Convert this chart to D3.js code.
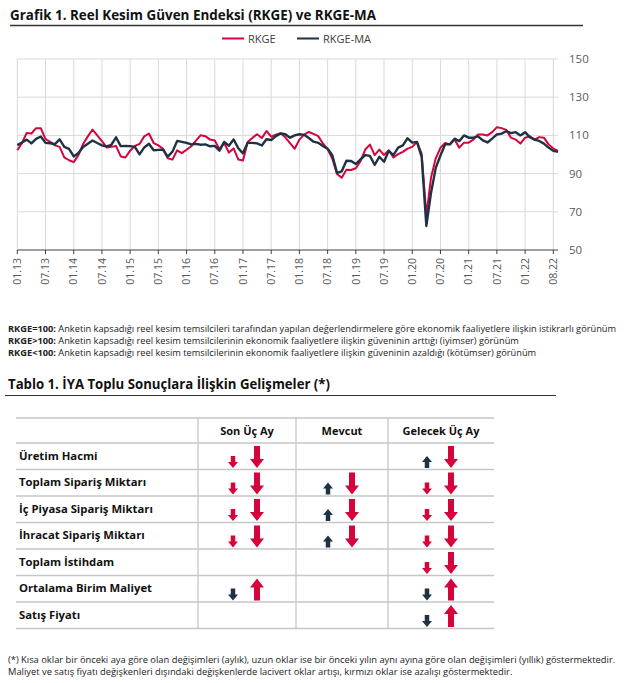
<!DOCTYPE html>
<html>
<head>
<meta charset="utf-8">
<script src="https://cdn.jsdelivr.net/npm/d3@7"></script>
<style>
  body { margin: 0; background: #fff; }
  text { font-family: "Open Sans", sans-serif; }
</style>
</head>
<body>
<div id="chart"></div>
<script>
// --- データ ---
const rkge = [
  102.2, 106, 111.3, 111, 113.8, 113.8, 108, 106.6, 104.8, 104, 98.5, 97,
  96, 99.7, 105.5, 109.5, 113, 110, 107, 103.7, 104, 104.5, 99, 98.4,
  102, 104.5, 105.5, 109.5, 111, 106, 104.8, 103, 98, 97.3, 102.2, 100.7,
  102.5, 104.3, 107.3, 110.1, 109.6, 107.8, 107.3, 102.8, 106, 101, 103.2, 97.4,
  96.9, 106.5, 108.7, 110.6, 108.6, 112.3, 109.3, 110.4, 111.1, 109, 106, 103,
  107.8, 110.4, 111.8, 110.8, 109.6, 105.8, 102.8, 97.8, 89.8, 87.8, 92, 91.9,
  92.8, 96.5, 102.6, 105.2, 99.7, 102.6, 99.7, 102.2, 98.4, 100.2, 101.4, 103.1,
  104, 106.6, 100.5, 68, 88, 98, 103.5, 106, 105.3, 107.8, 103.6, 106.2,
  106.2, 107.8, 110.5, 110.5, 110, 111.7, 114.3, 113.8, 112.9, 108.8, 107.8, 105.7,
  108.8, 109.5, 107.8, 109.1, 108.8, 105.3, 103.1, 101.9
];
const rkgeMa = [
  104.9, 106.3, 107.8, 105.8, 108.2, 109.4, 106.1, 105.9, 105.4, 107.9, 104, 103,
  99, 100.8, 103.9, 105.6, 107.3, 106, 104.8, 104.2, 105.1, 109, 104.4, 104.5,
  104.4, 104, 100.1, 103.7, 105.6, 102.2, 102.4, 102.5, 98.9, 101.5, 107.1, 106.6,
  106.1, 105.3, 105.6, 105.1, 105.3, 104.3, 104.5, 102, 106.6, 104.6, 107.9, 103.3,
  100.6, 106.1, 106.1, 105.8, 104.7, 108, 107.6, 109.6, 111, 110.6, 108.8, 110,
  110.6, 110.3, 108.6, 106.7, 106.1, 104.4, 103, 99.6, 90.4, 91.2, 96.7, 96.6,
  95, 97.4, 99.7, 99.3, 94.6, 98.8, 96.2, 101.9, 99.7, 103.6, 104.8, 108.5,
  106.2, 106.6, 98.8, 62.6, 80, 93, 99.5, 105.4, 105.3, 108.3, 107, 110,
  108.8, 108.8, 109.5, 107.4, 106.3, 108.3, 110.5, 110.9, 112.2, 111.2, 111.7, 110,
  111.7, 109.1, 107.8, 107.1, 105.7, 103.6, 101.9, 101.4
];
const tickIdx = [0, 6, 12, 18, 24, 30, 36, 42, 48, 54, 60, 66, 72, 78, 84, 90, 96, 102, 108, 114];
const tickLabels = ["01.13", "07.13", "01.14", "07.14", "01.15", "07.15", "01.16", "07.16", "01.17", "07.17",
  "01.18", "07.18", "01.19", "07.19", "01.20", "07.20", "01.21", "07.21", "01.22", "08.22"];
const yTicks = [50, 70, 90, 110, 130, 150];
const seriesNames = ["RKGE", "RKGE-MA"];

const notes = [
  ["RKGE=100:", " Anketin kapsadığı reel kesim temsilcileri tarafından yapılan değerlendirmelere göre ekonomik faaliyetlere ilişkin istikrarlı görünüm"],
  ["RKGE>100:", " Anketin kapsadığı reel kesim temsilcilerinin ekonomik faaliyetlere ilişkin güveninin arttığı (iyimser) görünüm"],
  ["RKGE<100:", " Anketin kapsadığı reel kesim temsilcilerinin ekonomik faaliyetlere ilişkin güveninin azaldığı (kötümser) görünüm"]
];

const tableCols = ["Son Üç Ay", "Mevcut", "Gelecek Üç Ay"];
const tableRowNames = ["Üretim Hacmi", "Toplam Sipariş Miktarı", "İç Piyasa Sipariş Miktarı",
  "İhracat Sipariş Miktarı", "Toplam İstihdam", "Ortalama Birim Maliyet", "Satış Fiyatı"];
// [kısa ok, uzun ok]  R/N = kırmızı/lacivert, u/d = yukarı/aşağı
const tableArrows = [
  [["Rd", "Rd"], null, ["Nu", "Rd"]],
  [["Rd", "Rd"], ["Nu", "Rd"], ["Rd", "Rd"]],
  [["Rd", "Rd"], ["Nu", "Rd"], ["Rd", "Rd"]],
  [["Rd", "Rd"], ["Nu", "Rd"], ["Rd", "Rd"]],
  [null, null, ["Rd", "Rd"]],
  [["Nd", "Ru"], null, ["Nd", "Ru"]],
  [null, null, ["Nd", "Ru"]]
];
const footnotes = [
  "(*)  Kısa oklar bir önceki aya göre olan değişimleri (aylık), uzun oklar ise bir önceki yılın aynı ayına göre olan değişimleri (yıllık) göstermektedir.",
  "Maliyet ve satış fiyatı değişkenleri dışındaki değişkenlerde lacivert oklar artışı, kırmızı oklar ise azalışı göstermektedir."
];

const RED = "#d5043a";
const NAVY = "#1f3245";
const GRID = "#d9d9d9";

const svg = d3.select("#chart").append("svg")
  .attr("width", 624).attr("height", 683);

// --- タイトル ---
svg.append("text").attr("x", 10).attr("y", 20)
  .attr("font-size", 14).attr("font-weight", "bold").attr("fill", "#111")
  .attr("textLength", 366).attr("lengthAdjust", "spacingAndGlyphs")
  .text("Grafik 1. Reel Kesim Güven Endeksi (RKGE) ve RKGE-MA");
svg.append("line").attr("x1", 10).attr("x2", 583).attr("y1", 25.5).attr("y2", 25.5)
  .attr("stroke", "#333").attr("stroke-width", 1.5);

// --- 凡例 ---
const legend = [{ x: 222, c: RED }, { x: 297, c: NAVY }];
legend.forEach((d, i) => {
  svg.append("line").attr("x1", d.x).attr("x2", d.x + 22).attr("y1", 38.5).attr("y2", 38.5)
    .attr("stroke", d.c).attr("stroke-width", 2);
  svg.append("text").attr("x", d.x + 26).attr("y", 42.5)
    .attr("font-size", 11).attr("fill", "#404040").text(seriesNames[i]);
});

// --- スケール ---
const x = d3.scaleLinear().domain([0, rkge.length - 1]).range([17.3, 558]);
const y = d3.scaleLinear().domain([50, 150]).range([250, 59]);

// グリッド
const g = svg.append("g");
g.selectAll(".hg").data(yTicks.filter(v => v > 50)).enter().append("line")
  .attr("x1", x(0)).attr("x2", x(rkge.length - 1))
  .attr("y1", d => y(d)).attr("y2", d => y(d))
  .attr("stroke", GRID).attr("stroke-width", 1);
g.selectAll(".vg").data(tickIdx).enter().append("line")
  .attr("x1", d => x(d)).attr("x2", d => x(d))
  .attr("y1", y(150)).attr("y2", y(50))
  .attr("stroke", GRID).attr("stroke-width", 1);

// x軸
g.append("line").attr("x1", x(0)).attr("x2", x(rkge.length - 1))
  .attr("y1", y(50)).attr("y2", y(50)).attr("stroke", "#404040").attr("stroke-width", 1);
g.selectAll(".xt").data(tickIdx).enter().append("line")
  .attr("x1", d => x(d)).attr("x2", d => x(d))
  .attr("y1", y(50)).attr("y2", y(50) + 4)
  .attr("stroke", "#404040").attr("stroke-width", 1);
g.selectAll(".xl").data(tickIdx).enter().append("text")
  .attr("transform", d => `translate(${x(d)},${y(50) + 8}) rotate(-90)`)
  .attr("text-anchor", "end").attr("dy", "0.35em")
  .attr("font-size", 10.5).attr("fill", "#595959")
  .text((d, i) => tickLabels[i]);

// y軸ラベル（右）
g.selectAll(".yl").data(yTicks).enter().append("text")
  .attr("x", 569).attr("y", d => y(d)).attr("dy", "0.35em")
  .attr("font-size", 11.5).attr("fill", "#595959")
  .text(d => d);

// 線
const line = d3.line().x((d, i) => x(i)).y(d => y(d));
g.append("path").datum(rkge).attr("d", line)
  .attr("fill", "none").attr("stroke", RED).attr("stroke-width", 2).attr("stroke-linejoin", "round");
g.append("path").datum(rkgeMa).attr("d", line)
  .attr("fill", "none").attr("stroke", NAVY).attr("stroke-width", 2.4).attr("stroke-linejoin", "round");

// --- 注記 ---
notes.forEach((n, i) => {
  const t = svg.append("text").attr("x", 8).attr("y", 332 + i * 12)
    .attr("font-size", 9.25).attr("fill", "#222");
  t.append("tspan").attr("font-weight", "bold").text(n[0]);
  t.append("tspan").text(n[1]);
});

// --- 表タイトル ---
svg.append("text").attr("x", 8).attr("y", 389)
  .attr("font-size", 14).attr("font-weight", "bold").attr("fill", "#111")
  .attr("textLength", 322).attr("lengthAdjust", "spacingAndGlyphs")
  .text("Tablo 1. İYA Toplu Sonuçlara İlişkin Gelişmeler (*)");
svg.append("line").attr("x1", 5).attr("x2", 556).attr("y1", 395.5).attr("y2", 395.5)
  .attr("stroke", "#333").attr("stroke-width", 1);

// --- 表 ---
const tLeft = 16, tRight = 494, tTop = 418, headH = 25, rowH = 26.5;
const colEdges = [198, 296, 388, tRight];
const colCenter = i => (colEdges[i] + colEdges[i + 1]) / 2;
const rowTop = r => tTop + headH + r * rowH;
const tBottom = rowTop(tableRowNames.length);
const tg = svg.append("g");

const hLines = [tTop].concat(d3.range(tableRowNames.length + 1).map(rowTop));
tg.selectAll(".th").data(hLines).enter().append("line")
  .attr("x1", tLeft).attr("x2", tRight).attr("y1", d => d).attr("y2", d => d)
  .attr("stroke", "#c6c6c6").attr("stroke-width", 1.6);
tg.selectAll(".tv").data(colEdges.slice(0, 3)).enter().append("line")
  .attr("x1", d => d).attr("x2", d => d).attr("y1", tTop).attr("y2", tBottom)
  .attr("stroke", "#c6c6c6").attr("stroke-width", 1.3);

tg.selectAll(".hc").data(tableCols).enter().append("text")
  .attr("x", (d, i) => colCenter(i)).attr("y", tTop + 16.5)
  .attr("text-anchor", "middle").attr("font-size", 11).attr("font-weight", "bold").attr("fill", "#111")
  .text(d => d);
tg.selectAll(".rn").data(tableRowNames).enter().append("text")
  .attr("x", 19).attr("y", (d, i) => rowTop(i) + 16.5)
  .attr("font-size", 11.3).attr("font-weight", "bold").attr("fill", "#111")
  .text(d => d);

function arrowPath(cx, bottom, h, hw, sw, hl, up) {
  const top = bottom - h;
  if (up) {
    return `M${cx},${top} L${cx + hw / 2},${top + hl} L${cx + sw / 2},${top + hl} L${cx + sw / 2},${bottom} ` +
      `L${cx - sw / 2},${bottom} L${cx - sw / 2},${top + hl} L${cx - hw / 2},${top + hl} Z`;
  }
  return `M${cx},${bottom} L${cx + hw / 2},${bottom - hl} L${cx + sw / 2},${bottom - hl} L${cx + sw / 2},${top} ` +
    `L${cx - sw / 2},${top} L${cx - sw / 2},${bottom - hl} L${cx - hw / 2},${bottom - hl} Z`;
}

tableArrows.forEach((row, r) => {
  row.forEach((cell, c) => {
    if (!cell) return;
    const bottom = rowTop(r + 1) - 1.5;
    const cx = colCenter(c);
    const s = cell[0], l = cell[1];
    tg.append("path").attr("d", arrowPath(cx - 14, bottom, 12, 10, 4.5, 6, s[1] === "u"))
      .attr("fill", s[0] === "R" ? RED : NAVY);
    tg.append("path").attr("d", arrowPath(cx + 10, bottom, 22, 14, 6, 9, l[1] === "u"))
      .attr("fill", l[0] === "R" ? RED : NAVY);
  });
});

// --- 脚注 ---
footnotes.forEach((f, i) => {
  svg.append("text").attr("x", 8).attr("y", 663 + i * 12)
    .attr("font-size", 9.35).attr("fill", "#222").text(f);
});
</script>
</body>
</html>
